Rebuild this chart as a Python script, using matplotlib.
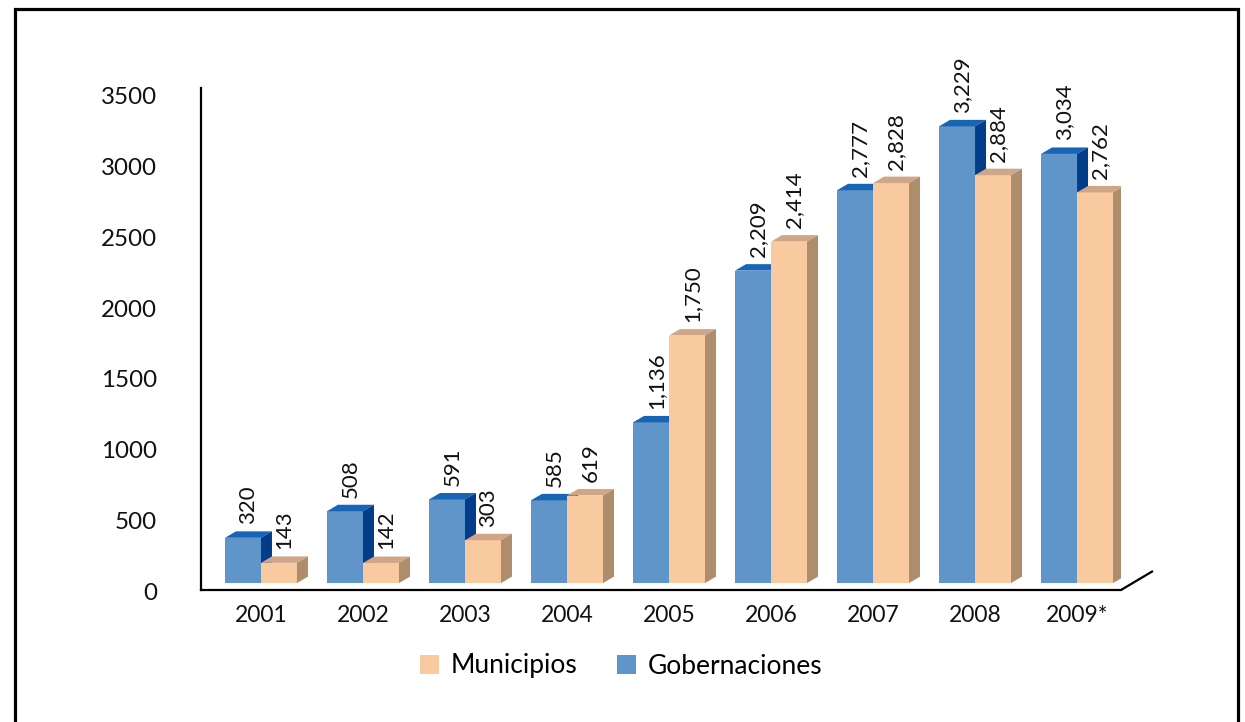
import matplotlib
matplotlib.use("Agg")
import matplotlib.pyplot as plt
from matplotlib.patches import Polygon, Patch, Rectangle
from matplotlib.lines import Line2D
from matplotlib.transforms import ScaledTranslation

plt.rcParams['font.family'] = ['Lato', 'DejaVu Sans']

years = ["2001", "2002", "2003", "2004", "2005", "2006", "2007", "2008", "2009*"]
gobernaciones = [320, 508, 591, 585, 1136, 2209, 2777, 3229, 3034]
municipios = [143, 142, 303, 619, 1750, 2414, 2828, 2884, 2762]
yticks = [0, 500, 1000, 1500, 2000, 2500, 3000, 3500]

# face colours: front, top, side
BLUE = ("#5f95c9", "#1765b4", "#033c88")
PEACH = ("#f9c9a0", "#d0a689", "#ad8d6c")

W, H = 1245, 722
fig = plt.figure(figsize=(W / 100, H / 100), dpi=100)
fig.patch.set_facecolor("white")

ax_left, ax_right, ax_top, ax_bot = 201, 1121, 88, 590
ax = fig.add_axes([ax_left / W, (H - ax_bot) / H,
                   (ax_right - ax_left) / W, (ax_bot - ax_top) / H])
ax.set_xlim(-0.588, 8.431)
ax.set_ylim(-49, 3476)

# pixel scale of the data axes, used for the pseudo-3D depth
px_x = (ax_right - ax_left) / (8.431 + 0.588)
px_y = (ax_bot - ax_top) / (3476 + 49)
dx = 11 / px_x
dy = 6.5 / px_y
bw = 36 / px_x

x = list(range(len(years)))


def draw_series(values, offset, colors, z):
    front, top, side = colors
    lefts = [i + offset for i in x]
    ax.bar([l + bw / 2 for l in lefts], values, bw, color=front,
           linewidth=0, zorder=z)
    for l, v in zip(lefts, values):
        r = l + bw
        ax.add_patch(Polygon([(l, v), (l + dx, v + dy), (r + dx, v + dy), (r, v)],
                             closed=True, facecolor=top, edgecolor="none", zorder=z))
        ax.add_patch(Polygon([(r, 0), (r, v), (r + dx, v + dy), (r + dx, dy)],
                             closed=True, facecolor=side, edgecolor="none", zorder=z))
        ax.text(l + bw / 2 + dx / 2, v + dy + 50, f"{v:,}", rotation=90,
                ha="center", va="bottom", fontsize=16, color="#111111", zorder=z + 2)


draw_series(gobernaciones, -bw, BLUE, 2)
draw_series(municipios, 0, PEACH, 3)

# axes styling
for s in ("top", "right"):
    ax.spines[s].set_visible(False)
ax.spines["left"].set_linewidth(1.6)
ax.spines["bottom"].set_linewidth(1.6)
ax.spines["left"].set_color("#000000")
ax.spines["bottom"].set_color("#000000")
ax.add_line(Line2D([1, 1 + 32 / (ax_right - ax_left)], [0, 19 / (ax_bot - ax_top)],
                   transform=ax.transAxes, color="black", linewidth=1.6,
                   clip_on=False, solid_capstyle="butt"))

ax.set_xticks(x)
ax.set_xticklabels(years)
ax.set_yticks(yticks)
ax.set_yticklabels([str(t) for t in yticks])
ax.tick_params(axis="x", length=0, pad=10.5, labelsize=16.5, labelcolor="#111111")
ax.tick_params(axis="y", length=0, pad=31.7, labelsize=17.4, labelcolor="#111111")
shift = ScaledTranslation(0, -8 / 100, fig.dpi_scale_trans)
for lab in ax.get_yticklabels():
    lab.set_transform(lab.get_transform() + shift)

# legend
handles = [Patch(facecolor=PEACH[0], edgecolor="none", label="Municipios"),
           Patch(facecolor=BLUE[0], edgecolor="none", label="Gobernaciones")]
fig.legend(handles=handles, loc="center", bbox_to_anchor=(621.5 / W, 1 - 666 / H),
           ncol=2, frameon=False, fontsize=19, handlelength=0.72, handleheight=0.72,
           handletextpad=0.45, columnspacing=1.5)

# outer frame
fig.add_artist(Rectangle((14.5 / W, -0.05), (1237.5 - 14.5) / W, 1.05 - 9.5 / H,
                         transform=fig.transFigure, fill=False, edgecolor="black",
                         linewidth=2.3))

fig.savefig("out.png", dpi=100)
